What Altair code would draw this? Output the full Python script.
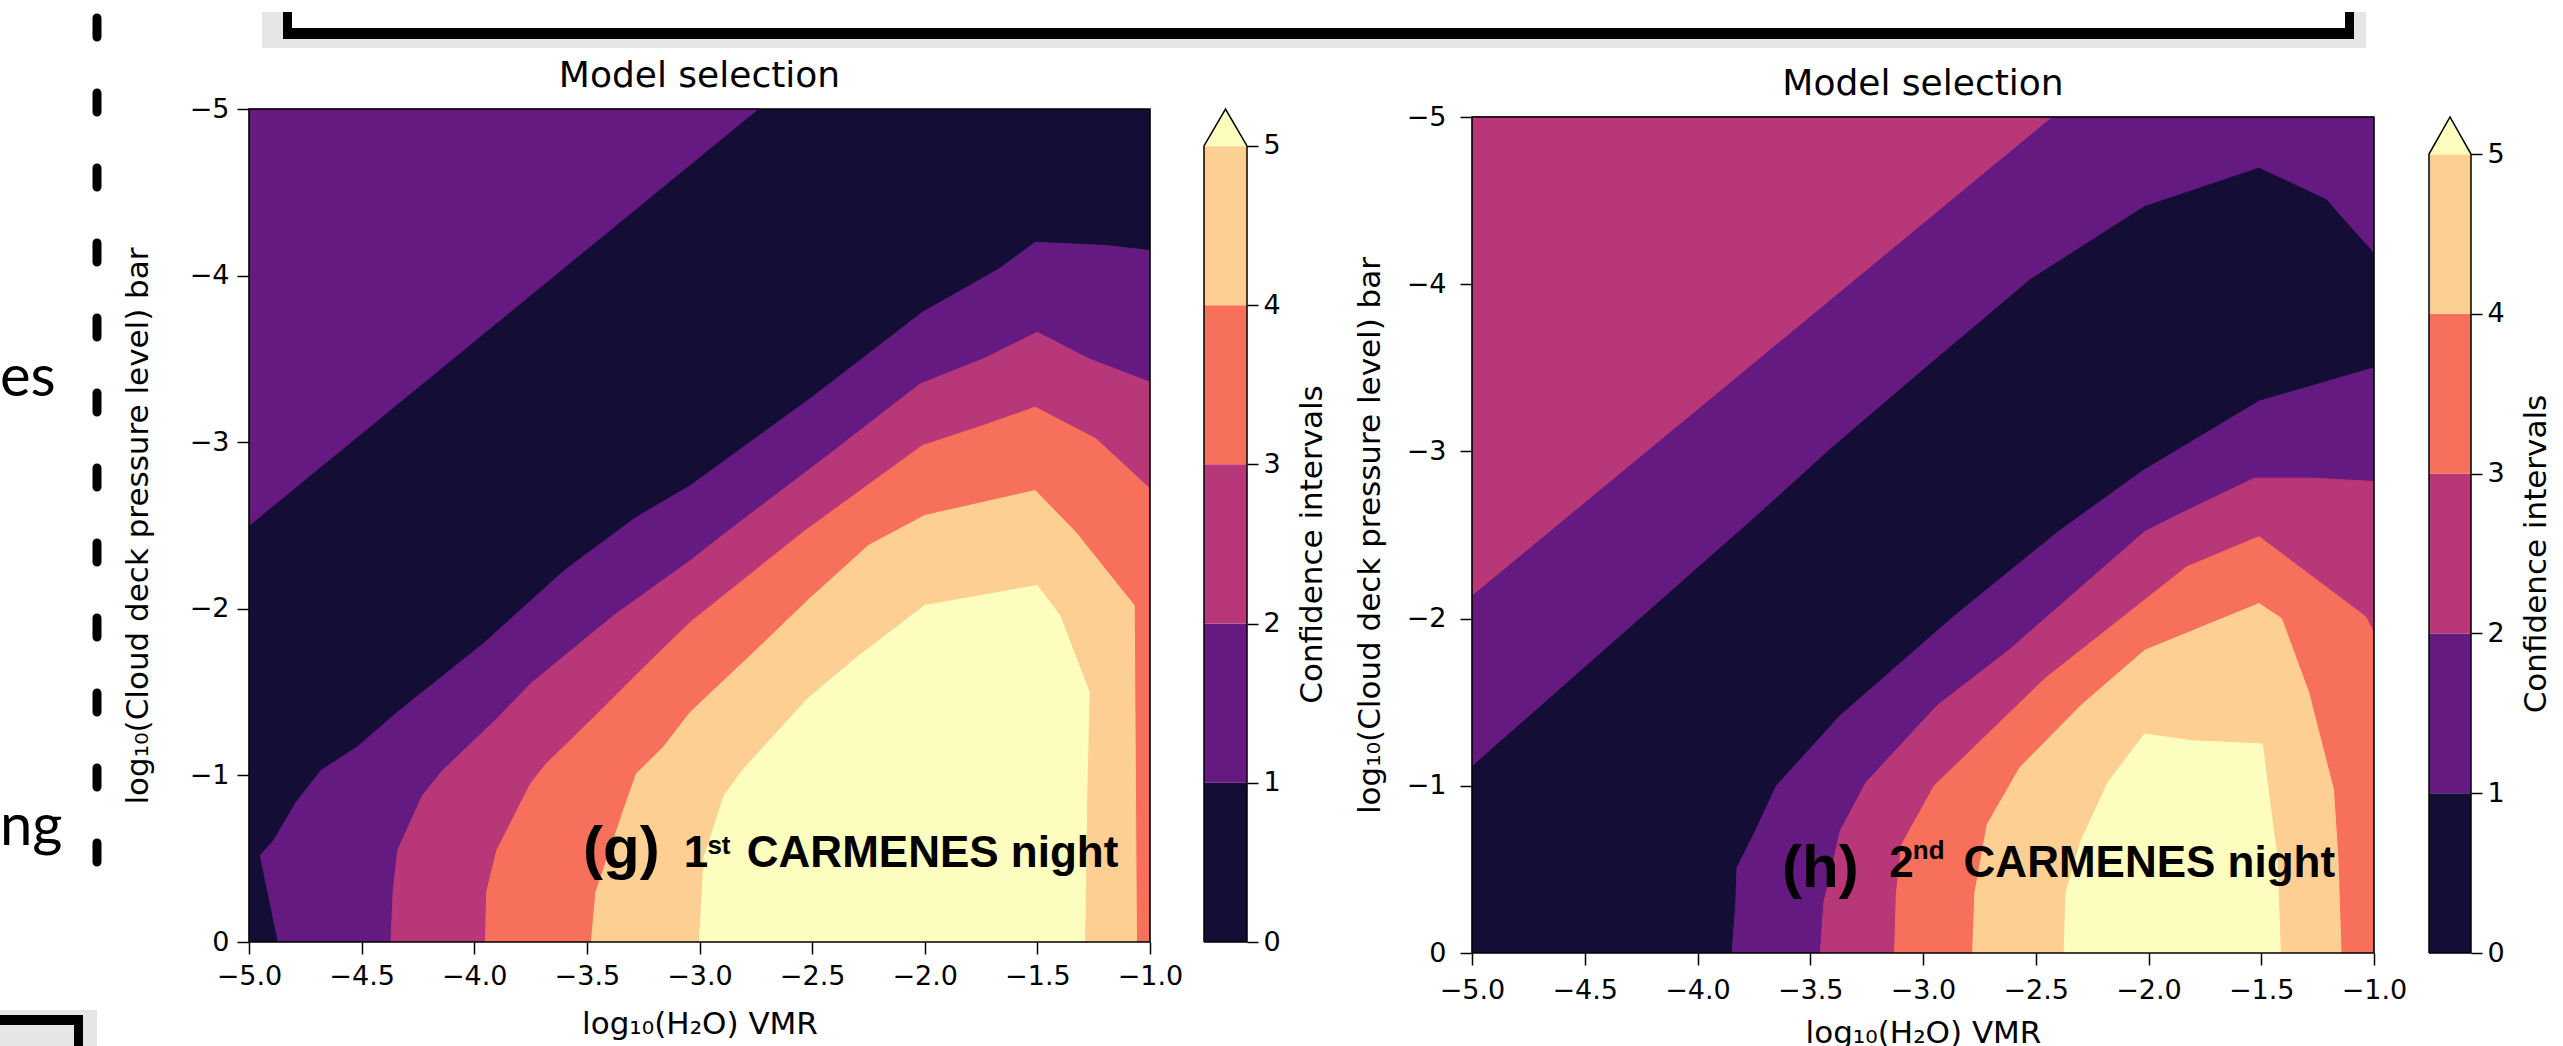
import altair as alt
import pandas as pd

# ---------------- data ----------------
LEVEL_COLORS = ["#140e36", "#641a80", "#b73779", "#f7705c", "#fecf92", "#fcfdbf"]
CB_LO = [0, 1, 2, 3, 4]
CB_HI = [1, 2, 3, 4, 5]
CB_TICKS = [0, 1, 2, 3, 4, 5]
X_TICKS = [-5.0, -4.5, -4.0, -3.5, -3.0, -2.5, -2.0, -1.5, -1.0]
Y_TICKS = [0, -1, -2, -3, -4, -5]

# plot extent (data units)
X_RANGE = [-5.0, -1.0]
Y_RANGE = [0.0, -5.0]

# panel (g): regions above each confidence level (closed outlines)
G_Z1_UP_X = [-5.0, -5.0, -2.74, -5.0]
G_Z1_UP_Y = [-5.0, -2.5, -5.0, -5.0]
G_Z1_X = [-4.87, -4.95, -4.89, -4.79, -4.68, -4.52, -4.34, -3.96, -3.60, -3.28, -3.04, -2.50,
          -2.01, -1.67, -1.51, -1.19, -1.0, -1.0, -4.87]
G_Z1_Y = [0.0, -0.52, -0.61, -0.84, -1.03, -1.17, -1.38, -1.79, -2.23, -2.55, -2.74, -3.27,
          -3.78, -4.04, -4.20, -4.18, -4.15, 0.0, 0.0]
G_Z2_X = [-4.37, -4.36, -4.34, -4.23, -4.14, -3.90, -3.75, -3.38, -3.04, -2.88, -2.45, -2.02,
          -1.74, -1.50, -1.27, -1.0, -1.0, -4.37]
G_Z2_Y = [0.0, -0.30, -0.55, -0.88, -1.03, -1.34, -1.55, -1.96, -2.29, -2.46, -2.90, -3.35,
          -3.50, -3.66, -3.50, -3.36, 0.0, 0.0]
G_Z3_X = [-3.95, -3.945, -3.90, -3.75, -3.68, -3.46, -3.23, -3.04, -2.54, -2.01, -1.74, -1.51,
          -1.24, -1.0, -1.0, -3.95]
G_Z3_Y = [0.0, -0.30, -0.55, -0.95, -1.07, -1.36, -1.67, -1.92, -2.46, -2.98, -3.10, -3.21,
          -3.02, -2.72, 0.0, 0.0]
G_Z4_X = [-3.48, -3.46, -3.34, -3.28, -3.16, -3.04, -2.75, -2.52, -2.25, -2.0, -1.51, -1.33,
          -1.07, -1.06, -3.48]
G_Z4_Y = [0.0, -0.30, -0.78, -1.01, -1.17, -1.38, -1.75, -2.05, -2.38, -2.56, -2.71, -2.46,
          -2.02, 0.0, 0.0]
G_Z5_X = [-3.0, -2.98, -2.89, -2.81, -2.52, -2.30, -2.0, -1.50, -1.40, -1.27, -1.28, -1.29, -3.0]
G_Z5_Y = [0.0, -0.51, -0.88, -1.03, -1.46, -1.71, -2.02, -2.14, -1.96, -1.50, -0.93, 0.0, 0.0]

# panel (h)
H_Z1_UP_X = [-5.0, -5.0, -3.72, -3.41, -3.015, -2.524, -2.017, -1.51, -1.21, -1.146, -1.0, -1.0, -5.0]
H_Z1_UP_Y = [-5.0, -1.12, -2.64, -3.02, -3.475, -4.033, -4.47, -4.70, -4.51, -4.41, -4.19, -5.0, -5.0]
H_Z2_UP_X = [-5.0, -5.0, -2.43, -5.0]
H_Z2_UP_Y = [-5.0, -2.14, -5.0, -5.0]
H_Z1_X = [-3.847, -3.83, -3.825, -3.75, -3.65, -3.367, -2.857, -2.40, -2.03, -1.51, -1.0, -1.0, -3.847]
H_Z1_Y = [0.0, -0.30, -0.51, -0.71, -1.00, -1.42, -2.02, -2.52, -2.88, -3.30, -3.50, 0.0, 0.0]
H_Z2_X = [-3.455, -3.44, -3.367, -3.253, -2.937, -2.62, -2.017, -1.84, -1.53, -1.27, -1.0, -1.0, -3.455]
H_Z2_Y = [0.0, -0.30, -0.73, -1.02, -1.48, -1.81, -2.52, -2.64, -2.84, -2.84, -2.82, 0.0, 0.0]
H_Z3_X = [-3.126, -3.118, -3.094, -2.95, -2.46, -1.83, -1.51, -1.036, -1.0, -1.0, -3.126]
H_Z3_Y = [0.0, -0.36, -0.65, -1.00, -1.64, -2.31, -2.49, -2.01, -1.91, 0.0, 0.0]
H_Z4_X = [-2.78, -2.77, -2.715, -2.57, -2.30, -2.017, -1.51, -1.41, -1.29, -1.18, -1.16, -1.146, -2.78]
H_Z4_Y = [0.0, -0.36, -0.77, -1.11, -1.48, -1.81, -2.09, -2.00, -1.56, -0.98, -0.57, 0.0, 0.0]
H_Z5_X = [-2.374, -2.366, -2.30, -2.18, -2.017, -1.81, -1.495, -1.46, -1.43, -1.415, -2.374]
H_Z5_Y = [0.0, -0.36, -0.67, -1.02, -1.31, -1.27, -1.25, -0.88, -0.57, 0.0, 0.0]

# ---------------- styling / layout constants ----------------
FONT = "DejaVu Sans"
BOLD_FONT = "Liberation Sans"
CB_TOP = 5.232  # colour-bar extent incl. the "extend max" triangle


def poly_df(xs, ys):
    return pd.DataFrame({"x": xs, "y": ys, "i": list(range(len(xs)))})


def x_axis(title_y, pad):
    return alt.Axis(values=X_TICKS, format=".1f", tickSize=12, tickWidth=1.5, tickColor="black",
                    domain=False, grid=False, labelFont=FONT, labelFontSize=27, labelColor="black",
                    labelPadding=pad, labelFlush=False, labelOverlap=False,
                    title="log₁₀(H₂O) VMR", titleFont=FONT, titleFontSize=31,
                    titleFontWeight="normal", titleColor="black", titleBaseline="alphabetic",
                    titleY=title_y)


def y_axis(title_x, title_y, pad):
    return alt.Axis(values=Y_TICKS, format="d", tickSize=12, tickWidth=1.5, tickColor="black",
                    domain=False, grid=False, labelFont=FONT, labelFontSize=27, labelColor="black",
                    labelPadding=pad, labelOverlap=False,
                    title="log₁₀(Cloud deck pressure level) bar", titleFont=FONT, titleFontSize=31,
                    titleFontWeight="normal", titleColor="black", titleAngle=270,
                    titleBaseline="alphabetic", titleAlign="center", titleX=title_x, titleY=title_y)


def make_panel(regions, labels, width, top, bottom, title_base, xax_title_y, xpad, ytx, ypad):
    xs = alt.Scale(domain=X_RANGE, nice=False, zero=False)
    ys = alt.Scale(domain=Y_RANGE, range=[bottom, top], nice=False, zero=False)
    xenc = alt.X("x:Q", scale=xs, axis=x_axis(xax_title_y, xpad))
    yenc = alt.Y("y:Q", scale=ys, axis=y_axis(ytx, (top + bottom) / 2, ypad))
    frame = pd.DataFrame({"x": [X_RANGE[0]], "x2": [X_RANGE[1]],
                          "y": [Y_RANGE[0]], "y2": [Y_RANGE[1]]})
    layers = [alt.Chart(frame).mark_rect(color=LEVEL_COLORS[0]).encode(
        x=xenc, x2="x2:Q", y=yenc, y2="y2:Q")]
    for xs_, ys_, col in regions:
        layers.append(
            alt.Chart(poly_df(xs_, ys_)).mark_line(
                fill=col, stroke=col, strokeWidth=1, clip=True, interpolate="linear"
            ).encode(x=xenc, y=yenc, order=alt.Order("i:Q"))
        )
    for (tx, ty, txt, size) in labels:
        layers.append(
            alt.Chart(pd.DataFrame({"x": [tx], "y": [ty], "t": [txt]})).mark_text(
                align="left", baseline="alphabetic", font=BOLD_FONT, fontWeight="bold",
                fontSize=size, color="black"
            ).encode(x=xenc, y=yenc, text="t:N")
        )
    layers.append(alt.Chart(frame).mark_rect(fill="transparent", stroke="black",
                                             strokeWidth=1.6).encode(
        x=xenc, x2="x2:Q", y=yenc, y2="y2:Q"))
    # panel title, placed above the plot frame
    per_unit = (bottom - top) / 5.0
    ttl = pd.DataFrame({"x": [sum(X_RANGE) / 2], "y": [Y_RANGE[1] - (top - title_base) / per_unit],
                        "t": ["Model selection"]})
    layers.append(alt.Chart(ttl).mark_text(
        align="center", baseline="alphabetic", font=FONT, fontSize=36, color="black"
    ).encode(x=xenc, y=yenc, text="t:N"))
    return alt.layer(*layers).properties(width=width, height=bottom)


def make_colorbar(width, top, bottom, title_x):
    ysc = alt.Scale(domain=[0, CB_TOP], range=[bottom, top], nice=False, zero=False)
    xsc = alt.Scale(domain=[0, 1], nice=False, zero=False)
    per_unit = (bottom - top) / CB_TOP
    ax = alt.Axis(values=CB_TICKS, format="d", orient="right", tickSize=11, tickWidth=1.5,
                  tickColor="black", domain=False, grid=False, labelFont=FONT, labelFontSize=27,
                  labelColor="black", labelPadding=5, title="Confidence intervals",
                  titleFont=FONT, titleFontSize=31, titleFontWeight="normal", titleColor="black",
                  titleAngle=270, titleBaseline="alphabetic", titleAlign="center",
                  titleX=title_x, titleY=bottom - 2.5 * per_unit)
    bands = pd.DataFrame({"lo": CB_LO, "hi": CB_HI, "c": LEVEL_COLORS[:5],
                          "x0": [0] * 5, "x1": [1] * 5})
    rects = alt.Chart(bands).mark_rect().encode(
        x=alt.X("x0:Q", scale=xsc, axis=None), x2="x1:Q",
        y=alt.Y("lo:Q", scale=ysc, axis=ax), y2="hi:Q",
        color=alt.Color("c:N", scale=None))
    tri = alt.Chart(poly_df([0, 0.5, 1, 0], [5, CB_TOP, 5, 5])).mark_line(
        fill=LEVEL_COLORS[5], stroke=LEVEL_COLORS[5], strokeWidth=1).encode(
        x=alt.X("x:Q", scale=xsc, axis=None), y=alt.Y("y:Q", scale=ysc, axis=ax),
        order=alt.Order("i:Q"))
    outline = alt.Chart(poly_df([0, 0, 0.5, 1, 1, 0], [0, 5, CB_TOP, 5, 0, 0])).mark_line(
        stroke="black", strokeWidth=1.5).encode(
        x=alt.X("x:Q", scale=xsc, axis=None), y=alt.Y("y:Q", scale=ysc, axis=ax),
        order=alt.Order("i:Q"))
    return alt.layer(rects, tri, outline).properties(width=width, height=bottom)


def spacer(w, h):
    # invisible, zero-overflow filler that only reserves horizontal room
    return alt.Chart(pd.DataFrame({"s": [0]})).mark_rect(opacity=0).encode(
        x=alt.value(0), x2=alt.value(w), y=alt.value(0), y2=alt.value(h)
    ).properties(width=w, height=h)


# ---------------- slide decorations (left strip) ----------------
DASH_X = [97, 97]
DASH_Y = [6, 850]
# slide boxes: light shadows first, then the black borders
BOX_X = [262, 262, 2354, 0, 283, 283, 2345, 83, 0, 74]
BOX_X2 = [283, 2366, 2366, 97, 2354, 292, 2354, 97, 83, 83]
BOX_Y = [0, 27, 0, 998, 16, 0, 0, 1013, 1003, 1003]
BOX_Y2 = [36, 36, 36, 1046, 27, 27, 27, 1046, 1013, 1046]
BOX_C = ["#e6e6e6", "#e6e6e6", "#e6e6e6", "#e6e6e6", "black", "black", "black", "#e6e6e6",
         "black", "black"]
SIDE_TEXT = pd.DataFrame({"x": [0, 0], "y": [384, 833], "t": ["es", "ng"]})


def make_decor():
    dx = alt.Scale(domain=[0, 249], nice=False, zero=False)
    dy = alt.Scale(domain=[0, 1046], nice=False, zero=False, reverse=True)
    dash = alt.Chart(pd.DataFrame({"x": DASH_X, "y": DASH_Y})).mark_line(
        color="black", strokeWidth=9, strokeDash=[19, 56], strokeCap="round").encode(
        x=alt.X("x:Q", scale=dx, axis=None), y=alt.Y("y:Q", scale=dy, axis=None))
    boxes = alt.Chart(pd.DataFrame({"x": BOX_X, "x2": BOX_X2, "y": BOX_Y, "y2": BOX_Y2,
                                    "c": BOX_C, "o": list(range(len(BOX_X)))})).mark_rect().encode(
        x=alt.X("x:Q", scale=dx, axis=None), x2="x2:Q",
        y=alt.Y("y:Q", scale=dy, axis=None), y2="y2:Q",
        color=alt.Color("c:N", scale=None), order=alt.Order("o:Q"))
    txt = alt.Chart(SIDE_TEXT).mark_text(
        align="left", baseline="alphabetic", font="Lato", fontSize=58, color="black").encode(
        x=alt.X("x:Q", scale=dx, axis=None), y=alt.Y("y:Q", scale=dy, axis=None), text="t:N")
    return alt.layer(boxes, dash, txt).properties(width=249, height=1046)


g_regions = [
    (G_Z1_UP_X, G_Z1_UP_Y, LEVEL_COLORS[1]),
    (G_Z1_X, G_Z1_Y, LEVEL_COLORS[1]),
    (G_Z2_X, G_Z2_Y, LEVEL_COLORS[2]),
    (G_Z3_X, G_Z3_Y, LEVEL_COLORS[3]),
    (G_Z4_X, G_Z4_Y, LEVEL_COLORS[4]),
    (G_Z5_X, G_Z5_Y, LEVEL_COLORS[5]),
]
h_regions = [
    (H_Z1_UP_X, H_Z1_UP_Y, LEVEL_COLORS[1]),
    (H_Z2_UP_X, H_Z2_UP_Y, LEVEL_COLORS[2]),
    (H_Z1_X, H_Z1_Y, LEVEL_COLORS[1]),
    (H_Z2_X, H_Z2_Y, LEVEL_COLORS[2]),
    (H_Z3_X, H_Z3_Y, LEVEL_COLORS[3]),
    (H_Z4_X, H_Z4_Y, LEVEL_COLORS[4]),
    (H_Z5_X, H_Z5_Y, LEVEL_COLORS[5]),
]
g_labels = [(-3.517, -0.444, "(g)", 60), (-3.07, -0.45, "1", 44),
            (-2.965, -0.53, "st", 26), (-2.79, -0.45, "CARMENES night", 44)]
h_labels = [(-3.625, -0.395, "(h)", 60), (-3.15, -0.455, "2", 44),
            (-3.045, -0.56, "nd", 26), (-2.82, -0.455, "CARMENES night", 44)]

panel_g = make_panel(g_regions, g_labels, 901, 97, 930, 75, 91, 9, -102, 8)
panel_h = make_panel(h_regions, h_labels, 902, 105, 941, 83, 89, 12, -93, 14)
cbar_g = make_colorbar(43, 97, 930, 74)
cbar_h = make_colorbar(42, 105, 941, 74)

chart = alt.hconcat(
    make_decor(), panel_g, spacer(54, 1), cbar_g, spacer(225, 1), panel_h, spacer(55, 1), cbar_h,
    spacing=0, bounds="flush",
).properties(padding=0, background="white").configure_view(strokeWidth=0)

chart.save("out.html", embed_options={"renderer": "svg", "actions": False})
